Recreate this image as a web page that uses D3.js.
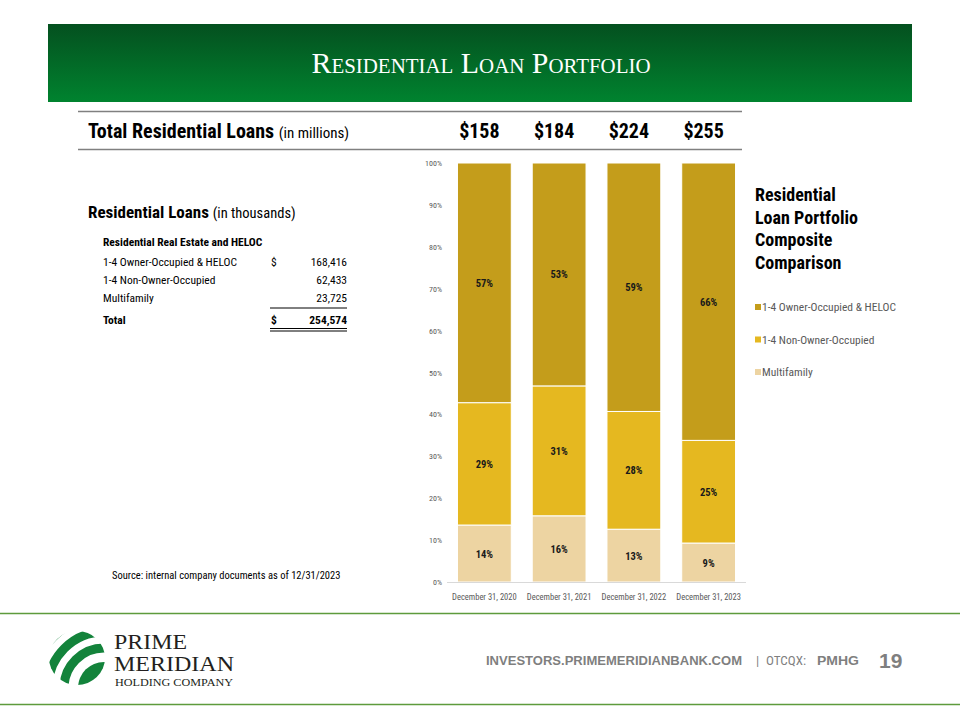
<!DOCTYPE html>
<html><head><meta charset="utf-8">
<script src="https://cdn.jsdelivr.net/npm/d3@7"></script>
<style>
html,body{margin:0;padding:0;background:#fff;}
svg{display:block;}
.n{font-family:"Liberation Sans Narrow","Arial Narrow","Roboto Condensed","Liberation Sans",Arial,sans-serif;}
.s{font-family:"Liberation Sans",Arial,sans-serif;}
.serif{font-family:"Liberation Serif","Times New Roman",serif;}
</style></head>
<body>
<svg id="c" width="960" height="720"></svg>
<script>
// ---- data ----
const categories = ["December 31, 2020","December 31, 2021","December 31, 2022","December 31, 2023"];
const seriesNames = ["Multifamily","1-4 Non-Owner-Occupied","1-4 Owner-Occupied & HELOC"];
const multifamily = [13.6, 15.8, 12.6, 9.3];
const nonOwner    = [29.2, 31.0, 28.1, 24.5];
const owner       = [57.2, 53.2, 59.3, 66.2];
const segLabels = {
  "Multifamily": ["14%","16%","13%","9%"],
  "1-4 Non-Owner-Occupied": ["29%","31%","28%","25%"],
  "1-4 Owner-Occupied & HELOC": ["57%","53%","59%","66%"]
};
const totalsMillions = ["$158","$184","$224","$255"];
const yTicks = [0,10,20,30,40,50,60,70,80,90,100];
const tableRows = ["1-4 Owner-Occupied & HELOC","1-4 Non-Owner-Occupied","Multifamily"];
const tableVals = ["168,416","62,433","23,725"];
const tableTotal = "254,574";
const legendOrder = ["1-4 Owner-Occupied & HELOC","1-4 Non-Owner-Occupied","Multifamily"];
const colors = {"1-4 Owner-Occupied & HELOC":"#C49D1B","1-4 Non-Owner-Occupied":"#E5B820","Multifamily":"#EDD4A2"};

const svg = d3.select("#c");
const defs = svg.append("defs");

// ---- header band ----
const g1 = defs.append("linearGradient").attr("id","hdr").attr("x1",0).attr("y1",0).attr("x2",0).attr("y2",1);
g1.append("stop").attr("offset","0%").attr("stop-color","#04501F");
g1.append("stop").attr("offset","100%").attr("stop-color","#00832F");
svg.append("rect").attr("x",48).attr("y",24).attr("width",864).attr("height",78).attr("fill","url(#hdr)");
svg.append("text").attr("class","serif").attr("x",481).attr("y",73).attr("text-anchor","middle")
  .attr("fill","#fff").attr("font-size",30).style("font-variant","small-caps")
  .attr("textLength",339).attr("lengthAdjust","spacingAndGlyphs").text("Residential Loan Portfolio");

// ---- totals row ----
svg.append("line").attr("x1",78).attr("x2",742).attr("y1",111.5).attr("y2",111.5).attr("stroke","#808080").attr("stroke-width",1.5);
svg.append("line").attr("x1",78).attr("x2",742).attr("y1",149.5).attr("y2",149.5).attr("stroke","#808080").attr("stroke-width",1.5);
const tt = svg.append("text").attr("class","n").attr("x",88).attr("y",138).attr("fill","#000");
tt.append("tspan").attr("font-weight","bold").attr("font-size",20).text("Total Residential Loans ");
tt.append("tspan").attr("font-size",15).text("(in millions)");

// ---- scales ----
const x = d3.scaleBand().domain(categories).range([447,746]).paddingInner(0.28).paddingOuter(0.14);
const y = d3.scaleLinear().domain([0,100]).range([582,163]);

svg.selectAll("text.tot").data(totalsMillions).join("text").attr("class","n tot")
  .attr("x",(d,i)=>x(categories[i])+x.bandwidth()/2-5).attr("y",138).attr("text-anchor","middle")
  .attr("font-weight","bold").attr("font-size",20).attr("fill","#000").text(d=>d);

// ---- table ----
const rl = svg.append("text").attr("class","n").attr("x",88).attr("y",218).attr("fill","#000");
rl.append("tspan").attr("font-weight","bold").attr("font-size",17).text("Residential Loans ");
rl.append("tspan").attr("font-size",14.5).text("(in thousands)");
svg.append("text").attr("class","n").attr("x",103).attr("y",246).attr("font-size",11.5).attr("font-weight","bold").attr("fill","#000").text("Residential Real Estate and HELOC");
const rowY = [266,284,302];
tableRows.forEach((r,i)=>{
  svg.append("text").attr("class","n").attr("x",103).attr("y",rowY[i]).attr("font-size",11.5).attr("fill","#000").text(r);
  svg.append("text").attr("class","n").attr("x",347).attr("y",rowY[i]).attr("font-size",11.5).attr("fill","#000").attr("text-anchor","end").text(tableVals[i]);
});
svg.append("text").attr("class","n").attr("x",271).attr("y",266).attr("font-size",11.5).attr("fill","#000").text("$");
svg.append("line").attr("x1",270).attr("x2",347).attr("y1",308).attr("y2",308).attr("stroke","#000").attr("stroke-width",1);
svg.append("text").attr("class","n").attr("x",103).attr("y",324).attr("font-size",11.5).attr("font-weight","bold").attr("fill","#000").text("Total");
svg.append("text").attr("class","n").attr("x",271).attr("y",324).attr("font-size",11.5).attr("font-weight","bold").attr("fill","#000").text("$");
svg.append("text").attr("class","n").attr("x",347).attr("y",324).attr("font-size",11.5).attr("font-weight","bold").attr("fill","#000").attr("text-anchor","end").text(tableTotal);
svg.append("line").attr("x1",270).attr("x2",347).attr("y1",328.5).attr("y2",328.5).attr("stroke","#000").attr("stroke-width",1);
svg.append("line").attr("x1",270).attr("x2",347).attr("y1",331).attr("y2",331).attr("stroke","#000").attr("stroke-width",1);

svg.append("text").attr("class","n").attr("x",112).attr("y",579).attr("font-size",10.5).attr("fill","#000").text("Source: internal company documents as of 12/31/2023");

// ---- chart ----
const rows = categories.map((c,i)=>({cat:c,"Multifamily":multifamily[i],"1-4 Non-Owner-Occupied":nonOwner[i],"1-4 Owner-Occupied & HELOC":owner[i]}));
const stack = d3.stack().keys(seriesNames)(rows);

const yAxis = svg.append("g").attr("transform","translate(447,0)")
  .call(d3.axisLeft(y).tickValues(yTicks).tickSize(0).tickPadding(5).tickFormat(d=>d+"%"));
yAxis.select(".domain").remove();
yAxis.selectAll("text").attr("class","n").attr("font-size",8).attr("fill","#595959");

stack.forEach(s=>{
  const key = s.key;
  svg.append("g").selectAll("rect").data(s).join("rect")
    .attr("x",d=>x(d.data.cat)).attr("width",x.bandwidth())
    .attr("y",d=>y(d[1])).attr("height",d=>y(d[0])-y(d[1]))
    .attr("fill",colors[key]).attr("stroke","#fff").attr("stroke-width",1);
  svg.append("g").selectAll("text").data(s).join("text").attr("class","n")
    .attr("x",d=>x(d.data.cat)+x.bandwidth()/2).attr("y",d=>(y(d[0])+y(d[1]))/2+4)
    .attr("text-anchor","middle").attr("font-size",10.5).attr("font-weight","bold").attr("fill","#1a1a1a")
    .text((d,i)=>segLabels[key][i]);
});

const xAxis = svg.append("g").attr("transform","translate(0,582.5)").call(d3.axisBottom(x).tickSize(0).tickPadding(11));
xAxis.select(".domain").attr("stroke","#D9D9D9").attr("d","M447,0H746");
xAxis.selectAll("text").attr("class","n").attr("font-size",8.5).attr("fill","#595959");

// ---- chart title & legend ----
["Residential","Loan Portfolio","Composite","Comparison"].forEach((t,i)=>{
  svg.append("text").attr("class","n").attr("x",755).attr("y",201+i*22.5).attr("font-size",18).attr("font-weight","bold").attr("fill","#000").text(t);
});
legendOrder.forEach((k,i)=>{
  const ly = 307 + i*32.5;
  svg.append("rect").attr("x",755).attr("y",ly-3).attr("width",6).attr("height",6).attr("fill",colors[k]);
  svg.append("text").attr("class","n").attr("x",762).attr("y",ly+4).attr("font-size",11.5).attr("fill","#595959").text(k);
});

// ---- footer ----
svg.append("line").attr("x1",0).attr("x2",960).attr("y1",613.5).attr("y2",613.5).attr("stroke","#5E9B3C").attr("stroke-width",1.5);
svg.append("line").attr("x1",0).attr("x2",960).attr("y1",704.5).attr("y2",704.5).attr("stroke","#5E9B3C").attr("stroke-width",1.5);
svg.append("text").attr("class","s").attr("x",486).attr("y",665).attr("font-size",13).attr("fill","#7F7F7F").attr("font-weight","bold")
  .attr("textLength",256).attr("lengthAdjust","spacingAndGlyphs").text("INVESTORS.PRIMEMERIDIANBANK.COM");
svg.append("text").attr("class","n").attr("x",756).attr("y",665).attr("font-size",13).attr("fill","#7F7F7F").text("|");
svg.append("text").attr("class","n").attr("x",766).attr("y",665).attr("font-size",13).attr("fill","#7F7F7F")
  .attr("textLength",40).attr("lengthAdjust","spacingAndGlyphs").text("OTCQX:");
svg.append("text").attr("class","s").attr("x",817).attr("y",665).attr("font-size",13).attr("fill","#7F7F7F").attr("font-weight","bold")
  .attr("textLength",42).attr("lengthAdjust","spacingAndGlyphs").text("PMHG");
svg.append("text").attr("class","s").attr("x",879).attr("y",668).attr("font-size",21).attr("font-weight","bold").attr("fill","#7F7F7F").text("19");

// logo
defs.append("clipPath").attr("id","lg").append("ellipse").attr("cx",77).attr("cy",658).attr("rx",28).attr("ry",27);
const lg = svg.append("g").attr("clip-path","url(#lg)");
lg.append("circle").attr("cx",104).attr("cy",688).attr("r",26).attr("fill","#13833B");
[40,56,72].forEach(r=>{
  lg.append("circle").attr("cx",104).attr("cy",688).attr("r",r).attr("fill","none").attr("stroke","#13833B").attr("stroke-width",9);
});
svg.append("text").attr("class","serif").attr("x",114).attr("y",649).attr("font-size",20).attr("fill","#231F20")
  .attr("textLength",73).attr("lengthAdjust","spacingAndGlyphs").text("PRIME");
svg.append("text").attr("class","serif").attr("x",114).attr("y",671).attr("font-size",20).attr("fill","#231F20")
  .attr("textLength",120).attr("lengthAdjust","spacingAndGlyphs").text("MERIDIAN");
svg.append("text").attr("class","serif").attr("x",115).attr("y",686).attr("font-size",11).attr("fill","#231F20").attr("textLength",118).attr("lengthAdjust","spacingAndGlyphs").text("HOLDING COMPANY");
</script>
</body></html>
